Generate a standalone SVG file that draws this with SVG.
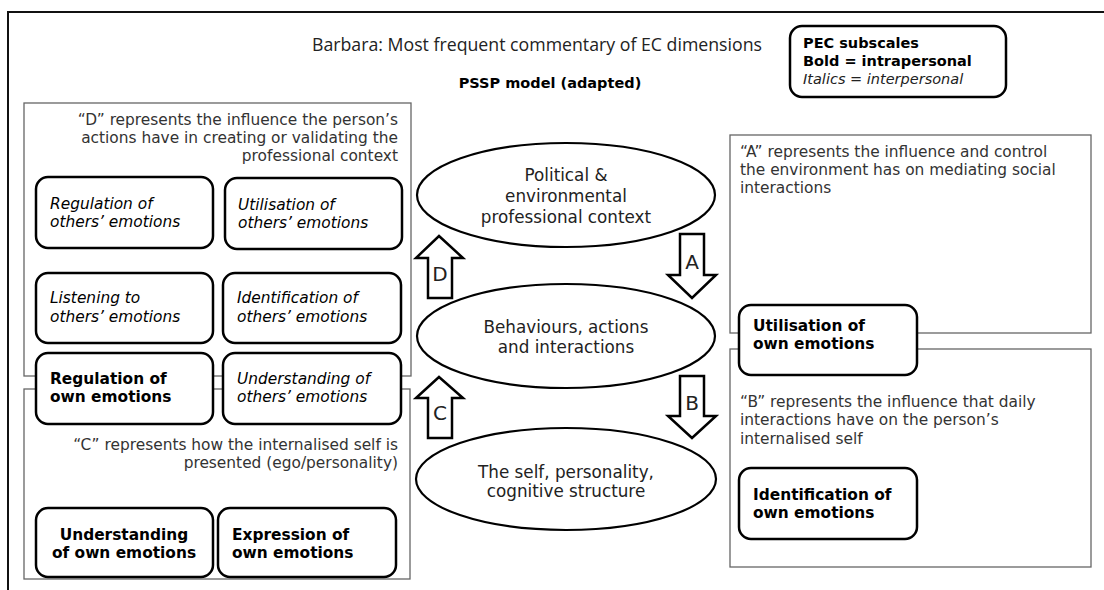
<svg xmlns="http://www.w3.org/2000/svg" width="1104" height="590" viewBox="0 0 1104 590">
<style>
.frame{fill:none;stroke:#111;stroke-width:2}
.panel{fill:#fff;stroke:#666;stroke-width:1.3}
.node{fill:#fff;stroke:#000;stroke-width:2.5}
.ell{fill:#fff;stroke:#000;stroke-width:2.2}
.arr{fill:#fff;stroke:#000;stroke-width:2.5;stroke-linejoin:miter}
text{font-family:"DejaVu Sans",Verdana,sans-serif;fill:#111}
.pt{font-size:15.4px;fill:#333}
.nt{font-size:15.4px;fill:#000}
.lg{font-size:14.5px;fill:#000}
.b{font-weight:bold}
.i{font-style:italic}
.et{font-size:16.8px;fill:#222;text-anchor:middle}
.lbl{font-size:20px;fill:#222;text-anchor:middle}
.r{text-anchor:end}
.c{text-anchor:middle}
</style>
<rect width="1104" height="590" fill="#fff"/>
<path class="frame" d="M8,600 V12 H1110"/>
<g id="title">
<text x="312" y="51" font-size="17.5" textLength="450" lengthAdjust="spacingAndGlyphs" style="font-family:'Open Sans','Noto Sans',sans-serif;fill:#222">Barbara: Most frequent commentary of EC dimensions</text>
<text x="550" y="88" class="lg b c">PSSP model (adapted)</text>
</g>
<g id="legend">
<rect class="node" x="790" y="26" width="216" height="71" rx="12"/>
<text x="803" y="48" class="lg b">PEC subscales</text>
<text x="803" y="66" class="lg b">Bold = intrapersonal</text>
<text x="803" y="84" class="lg i" style="fill:#222">Italics = interpersonal</text>
</g>
<g id="panel-D">
<rect class="panel" x="24" y="103" width="387" height="273"/>
<text class="pt r" x="398" y="125">“D” represents the influence the person’s</text>
<text class="pt r" x="398" y="143">actions have in creating or validating the</text>
<text class="pt r" x="398" y="161">professional context</text>
</g>
<g id="panel-C">
<rect class="panel" x="24" y="389" width="386" height="190"/>
<text class="pt r" x="398" y="450">“C” represents how the internalised self is</text>
<text class="pt r" x="398" y="468">presented (ego/personality)</text>
</g>
<g id="panel-A">
<rect class="panel" x="730" y="135" width="361" height="198"/>
<text class="pt" x="740" y="157">“A” represents the influence and control</text>
<text class="pt" x="740" y="175">the environment has on mediating social</text>
<text class="pt" x="740" y="193">interactions</text>
</g>
<g id="panel-B">
<rect class="panel" x="730" y="349" width="361" height="218"/>
<text class="pt" x="740" y="407">“B” represents the influence that daily</text>
<text class="pt" x="740" y="425">interactions have on the person’s</text>
<text class="pt" x="740" y="444">internalised self</text>
</g>
<g id="node-regulation-others">
<rect class="node" x="36" y="177" width="177" height="71" rx="12"/>
<text class="nt i" x="50" y="209">Regulation of</text>
<text class="nt i" x="50" y="227">others’ emotions</text>
</g>
<g id="node-utilisation-others">
<rect class="node" x="225" y="178" width="177" height="71" rx="12"/>
<text class="nt i" x="238" y="210">Utilisation of</text>
<text class="nt i" x="238" y="228">others’ emotions</text>
</g>
<g id="node-listening-others">
<rect class="node" x="36" y="273" width="177" height="70" rx="12"/>
<text class="nt i" x="50" y="303">Listening to</text>
<text class="nt i" x="50" y="322">others’ emotions</text>
</g>
<g id="node-identification-others">
<rect class="node" x="223" y="273" width="178" height="70" rx="12"/>
<text class="nt i" x="237" y="303">Identification of</text>
<text class="nt i" x="237" y="322">others’ emotions</text>
</g>
<g id="node-regulation-own">
<rect class="node" x="36" y="353" width="177" height="71" rx="12"/>
<text class="nt b" x="50" y="384">Regulation of</text>
<text class="nt b" x="50" y="402">own emotions</text>
</g>
<g id="node-understanding-others">
<rect class="node" x="223" y="353" width="178" height="71" rx="12"/>
<text class="nt i" x="237" y="384">Understanding of</text>
<text class="nt i" x="237" y="402">others’ emotions</text>
</g>
<g id="node-understanding-own">
<rect class="node" x="36" y="508" width="177" height="69" rx="12"/>
<text class="nt b c" x="124" y="540">Understanding</text>
<text class="nt b c" x="124" y="558">of own emotions</text>
</g>
<g id="node-expression-own">
<rect class="node" x="218" y="508" width="178" height="69" rx="12"/>
<text class="nt b" x="232" y="540">Expression of</text>
<text class="nt b" x="232" y="558">own emotions</text>
</g>
<g id="node-utilisation-own">
<rect class="node" x="739" y="305" width="178" height="70" rx="12"/>
<text class="nt b" x="753" y="331">Utilisation of</text>
<text class="nt b" x="753" y="349">own emotions</text>
</g>
<g id="node-identification-own">
<rect class="node" x="739" y="468" width="178" height="71" rx="12"/>
<text class="nt b" x="753" y="500">Identification of</text>
<text class="nt b" x="753" y="518">own emotions</text>
</g>
<g id="node-context">
<ellipse class="ell" cx="566" cy="195" rx="149" ry="52"/>
<text class="et" x="566" y="181">Political &amp;</text>
<text class="et" x="566" y="202">environmental</text>
<text class="et" x="566" y="223">professional context</text>
</g>
<g id="node-behaviours">
<ellipse class="ell" cx="566" cy="336" rx="149" ry="52"/>
<text class="et" x="566" y="333">Behaviours, actions</text>
<text class="et" x="566" y="353">and interactions</text>
</g>
<g id="node-self">
<ellipse class="ell" cx="566" cy="479" rx="150" ry="51"/>
<text class="et" x="566" y="478">The self, personality,</text>
<text class="et" x="566" y="497">cognitive structure</text>
</g>
<g id="connectors">
<polygon class="arr" points="439,236 463,258 452,258 452,298 428,298 428,258 416,258"/>
<text class="lbl" x="440" y="281">D</text>
<polygon class="arr" points="680,234 704,234 704,275 716,275 692,298 668,275 680,275"/>
<text class="lbl" x="692" y="269">A</text>
<polygon class="arr" points="439,377 463,398 452,398 452,438 428,438 428,398 416,398"/>
<text class="lbl" x="440" y="420">C</text>
<polygon class="arr" points="680,376 704,376 704,416 716,416 692,438 668,416 680,416"/>
<text class="lbl" x="692" y="410">B</text>
</g>
</svg>
